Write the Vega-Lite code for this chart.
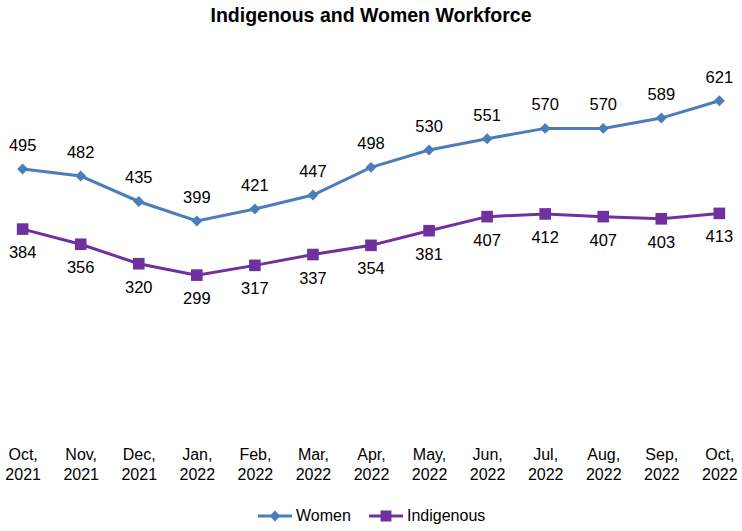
{
  "$schema": "https://vega.github.io/schema/vega-lite/v6.json",
  "width": 742,
  "height": 379,
  "autosize": {"type": "none"},
  "padding": {"left": 0, "top": 58, "right": 0, "bottom": 94},
  "background": "white",
  "title": {"text": "Indigenous and Women Workforce", "fontSize": 19.5, "font": "Liberation Sans", "fontWeight": "bold", "anchor": "middle", "offset": 32, "color": "#000"},
  "config": {"view": {"stroke": null}, "font": "Liberation Sans"},
  "data": {"values": [
    {"month": "Oct, 2021", "series": "Women", "value": 495},
    {"month": "Nov, 2021", "series": "Women", "value": 482},
    {"month": "Dec, 2021", "series": "Women", "value": 435},
    {"month": "Jan, 2022", "series": "Women", "value": 399},
    {"month": "Feb, 2022", "series": "Women", "value": 421},
    {"month": "Mar, 2022", "series": "Women", "value": 447},
    {"month": "Apr, 2022", "series": "Women", "value": 498},
    {"month": "May, 2022", "series": "Women", "value": 530},
    {"month": "Jun, 2022", "series": "Women", "value": 551},
    {"month": "Jul, 2022", "series": "Women", "value": 570},
    {"month": "Aug, 2022", "series": "Women", "value": 570},
    {"month": "Sep, 2022", "series": "Women", "value": 589},
    {"month": "Oct, 2022", "series": "Women", "value": 621},
    {"month": "Oct, 2021", "series": "Indigenous", "value": 384},
    {"month": "Nov, 2021", "series": "Indigenous", "value": 356},
    {"month": "Dec, 2021", "series": "Indigenous", "value": 320},
    {"month": "Jan, 2022", "series": "Indigenous", "value": 299},
    {"month": "Feb, 2022", "series": "Indigenous", "value": 317},
    {"month": "Mar, 2022", "series": "Indigenous", "value": 337},
    {"month": "Apr, 2022", "series": "Indigenous", "value": 354},
    {"month": "May, 2022", "series": "Indigenous", "value": 381},
    {"month": "Jun, 2022", "series": "Indigenous", "value": 407},
    {"month": "Jul, 2022", "series": "Indigenous", "value": 412},
    {"month": "Aug, 2022", "series": "Indigenous", "value": 407},
    {"month": "Sep, 2022", "series": "Indigenous", "value": 403},
    {"month": "Oct, 2022", "series": "Indigenous", "value": 413}
  ]},
  "encoding": {
    "x": {"field": "month", "type": "ordinal", "sort": null, "scale": {"type": "point", "padding": 0.39},
      "axis": {"title": null, "labelAngle": 0, "domain": false, "ticks": false, "labelFontSize": 16, "labelColor": "#000", "labelPadding": 9, "labelExpr": "split(datum.value, ' ')", "labelLineHeight": 20, "labelFont": "Liberation Sans"}},
    "y": {"field": "value", "type": "quantitative", "scale": {"domain": [0, 700]}, "axis": null}
  },
  "layer": [
    {
      "transform": [{"filter": "datum.series === 'Women'"}],
      "mark": {"type": "line", "strokeWidth": 3, "color": "#4a7ebb"}
    },
    {
      "transform": [{"filter": "datum.series === 'Indigenous'"}],
      "mark": {"type": "line", "strokeWidth": 3, "color": "#7030a0"}
    },
    {
      "transform": [{"filter": "datum.series === 'Women'"}],
      "mark": {"type": "point", "shape": "diamond", "filled": true, "opacity": 1, "size": 120, "color": "#4a7ebb"}
    },
    {
      "transform": [{"filter": "datum.series === 'Indigenous'"}],
      "mark": {"type": "point", "shape": "square", "filled": true, "opacity": 1, "size": 135, "color": "#7030a0"}
    },
    {
      "transform": [{"filter": "datum.series === 'Women'"}],
      "mark": {"type": "text", "fontSize": 16.5, "dy": -23, "color": "#000", "font": "Liberation Sans"},
      "encoding": {"text": {"field": "value", "type": "quantitative"}}
    },
    {
      "transform": [{"filter": "datum.series === 'Indigenous'"}],
      "mark": {"type": "text", "fontSize": 16.5, "dy": 24, "color": "#000", "font": "Liberation Sans"},
      "encoding": {"text": {"field": "value", "type": "quantitative"}}
    },
    {
      "transform": [{"filter": "datum.value < 0"}],
      "mark": {"type": "point", "filled": true, "opacity": 1},
      "encoding": {
        "color": {"field": "series", "type": "nominal", "scale": {"domain": ["Women", "Indigenous"], "range": ["#4a7ebb", "#7030a0"]},
          "legend": {"title": null, "orient": "none", "legendX": 258, "legendY": 441, "direction": "horizontal", "symbolSize": 1156, "symbolOpacity": 1, "symbolStrokeWidth": 0, "labelFontSize": 16, "labelColor": "#000", "labelFont": "Liberation Sans", "columnPadding": 18, "labelOffset": 4}},
        "shape": {"field": "series", "type": "nominal", "scale": {"domain": ["Women", "Indigenous"], "range": ["M-1,-0.09H1V0.09H-1Z M0,-0.32L0.32,0L0,0.32L-0.32,0Z", "M-1,-0.09H1V0.09H-1Z M-0.32,-0.32H0.32V0.32H-0.32Z"]}}
      }
    }
  ]
}
